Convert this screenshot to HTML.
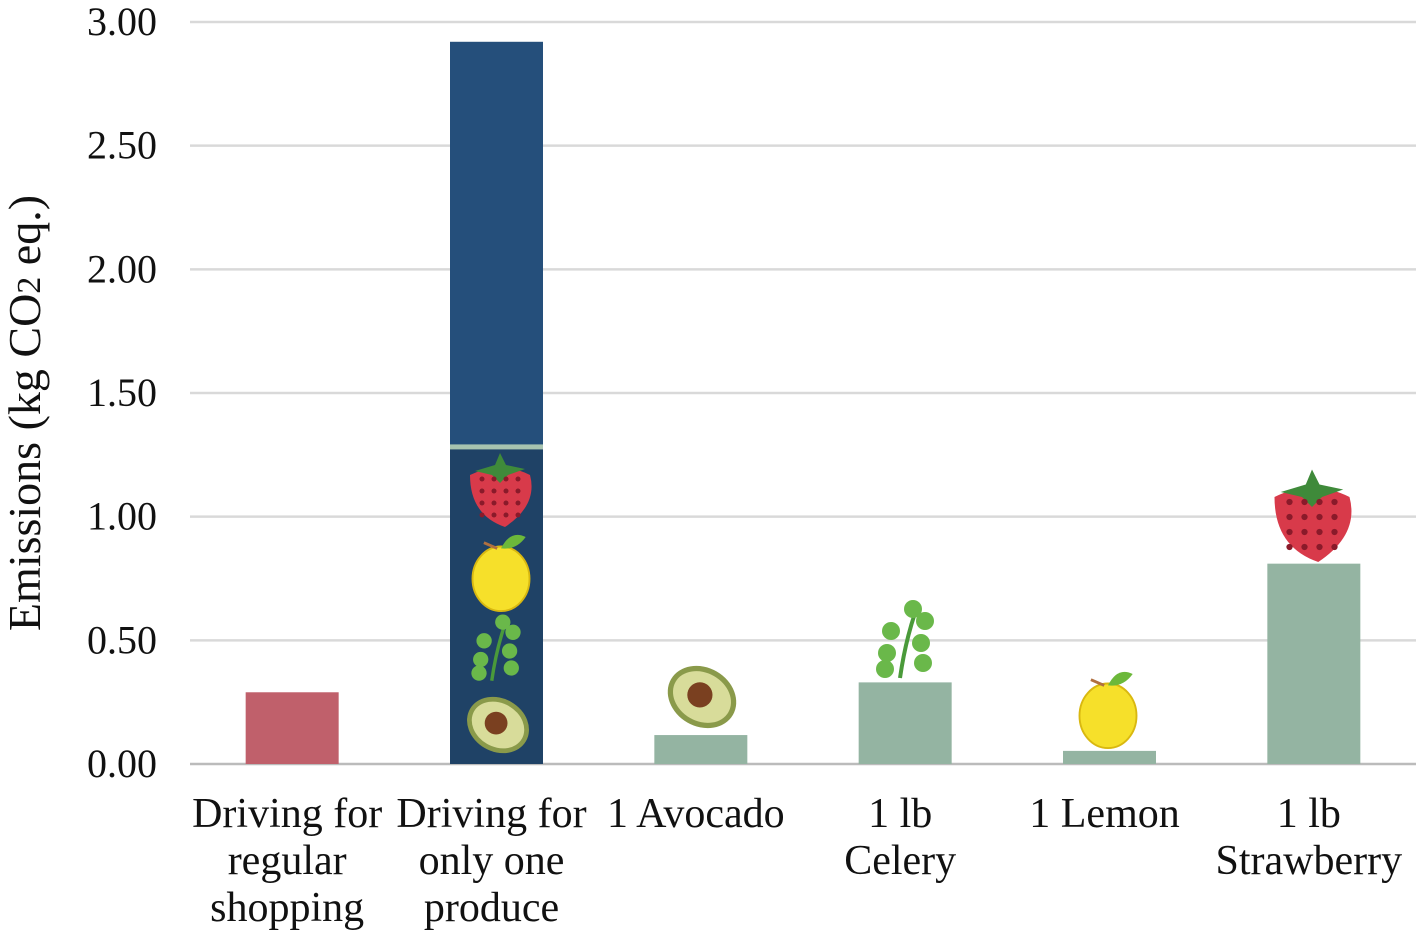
<!DOCTYPE html>
<html><head><meta charset="utf-8"><style>
body{margin:0;background:#fff;}
svg text{font-family:"Liberation Serif",serif;fill:#111;}
</style></head><body>
<svg id="chart" width="1424" height="936"></svg>
<script>
const categories = [["Driving for","regular","shopping"],["Driving for","only one","produce"],["1 Avocado"],["1 lb","Celery"],["1 Lemon"],["1 lb","Strawberry"]];
const totals = [0.29, 2.92, 0.117, 0.33, 0.053, 0.81];
const produceSum = [0, 1.28, 0, 0, 0, 0];
const colors = ["#c0606b","#254f7b","#94b4a2","#94b4a2","#94b4a2","#94b4a2"];
const ticks = [0, 0.5, 1.0, 1.5, 2.0, 2.5, 3.0];
const NS = "http://www.w3.org/2000/svg";
const svg = document.getElementById("chart");
const x0 = 190, x1 = 1416, yBase = 764, yTop = 22, yMax = 3;
const band = (x1 - x0) / categories.length;
const y = v => yBase - (v / yMax) * (yBase - yTop);
const xc = i => x0 + band * (i + 0.5);
const bw = 93;
function mk(tag, attrs, parent){const e=document.createElementNS(NS,tag);for(const k in attrs)e.setAttribute(k,attrs[k]);(parent||svg).appendChild(e);return e;}
ticks.forEach(t=>{
  const l = mk("line",{x1:x0,x2:x1,y1:y(t),y2:y(t),stroke:t===0?"#bbb":"#d9d9d9","stroke-width":2.5});
  
  
  const tx = mk("text",{x:157,y:y(t)+13,"text-anchor":"end","font-size":40});
  tx.textContent = t.toFixed(2);
  
  
});
totals.forEach((v,i)=>{
  const r = mk("rect",{x:xc(i)-bw/2,y:y(v),width:bw,height:y(0)-y(v),fill:colors[i]});
  
  
  if(produceSum[i]>0){
    const r2 = mk("rect",{x:xc(i)-bw/2,y:y(produceSum[i]),width:bw,height:y(0)-y(produceSum[i]),fill:"#1f4266"});
    
    
    const ln = mk("rect",{x:xc(i)-bw/2,y:y(produceSum[i])-3,width:bw,height:5,fill:"#a8c4b0"});
    
    
  }
  categories[i].forEach((s,j)=>{
    const t = mk("text",{x:xc(i)-5,y:827+j*47,"text-anchor":"middle","font-size":42});
    t.textContent = s;
    
    
  });
});
function strawberry(cx,cy,s){const g=mk("g",{transform:`translate(${cx},${cy}) scale(${s})`});
  mk("path",{d:"M-30,-20 Q0,-35 30,-20 Q38,10 5,32 Q-30,20 -30,-20Z",fill:"#d83a4a"},g);
  mk("path",{d:"M-25,-24 L-5,-30 L0,-42 L6,-30 L25,-26 L8,-20 L0,-12 L-8,-20Z",fill:"#3f8a3a"},g);
  for(let a=-18;a<=22;a+=12)for(let b=-16;b<=20;b+=12)mk("circle",{cx:a,cy:b,r:2.5,fill:"#8a1a2a"},g);
  }
function lemon(cx,cy,s){const g=mk("g",{transform:`translate(${cx},${cy}) scale(${s})`});
  mk("ellipse",{cx:0,cy:4,rx:30,ry:34,fill:"#f6e02a",stroke:"#d9b810","stroke-width":2},g);
  mk("path",{d:"M0,-28 Q10,-48 26,-40 Q16,-26 0,-28Z",fill:"#6cb83a"},g);
  mk("line",{x1:-4,y1:-28,x2:-18,y2:-34,stroke:"#b07040","stroke-width":3},g);
  }
function avocado(cx,cy,s){const g=mk("g",{transform:`translate(${cx},${cy}) scale(${s})`});
  mk("ellipse",{cx:0,cy:0,rx:34,ry:28,fill:"#8a9a4a",transform:"rotate(30)"},g);
  mk("ellipse",{cx:0,cy:0,rx:29,ry:23,fill:"#d8dc9a",transform:"rotate(30)"},g);
  mk("circle",{cx:-2,cy:-2,r:12,fill:"#7a4020"},g);
  }
function celery(cx,cy,s){const g=mk("g",{transform:`translate(${cx},${cy}) scale(${s})`});
  mk("path",{d:"M-5,35 Q0,0 10,-30",stroke:"#4a9a3a","stroke-width":4,fill:"none"},g);
  [[-18,10],[16,0],[-14,-12],[20,-22],[8,-34],[-20,26],[18,20]].forEach(p=>mk("circle",{cx:p[0],cy:p[1],r:9,fill:"#6ab84a"},g));
  }
strawberry(500,495,1); lemon(501,575,0.95); celery(496,651,0.85); avocado(498,725,0.95);
avocado(702,697,1.05); celery(905,643,1.0); lemon(1108,712,0.95); strawberry(1312,522,1.25);
const yl = mk("text",{transform:"translate(40,413) rotate(-90)","text-anchor":"middle","font-size":46});
yl.innerHTML = 'Emissions  (kg CO<tspan font-size="34">2</tspan> eq.)';


</script>
</body></html>
